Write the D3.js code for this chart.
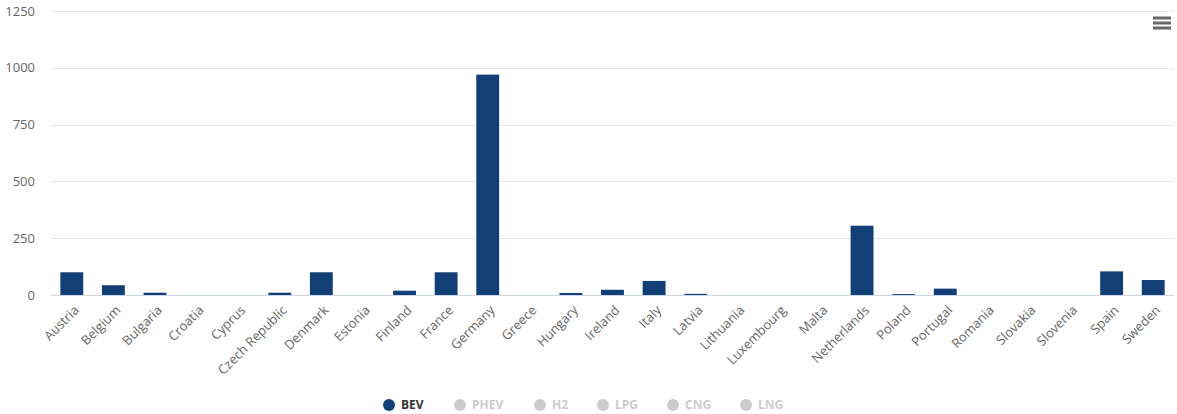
<!DOCTYPE html>
<html>
<head>
<meta charset="utf-8">
<script src="https://cdn.jsdelivr.net/npm/d3@7"></script>
<style>
  html, body { margin: 0; padding: 0; background: #fff; }
  svg { display: block; font-family: "Open Sans", "DejaVu Sans", sans-serif; }
</style>
</head>
<body>
<svg id="chart" width="1177" height="414"></svg>
<script>
// Registrations by country, BEV series
const countries = ["Austria", "Belgium", "Bulgaria", "Croatia", "Cyprus", "Czech Republic", "Denmark",
  "Estonia", "Finland", "France", "Germany", "Greece", "Hungary", "Ireland", "Italy", "Latvia",
  "Lithuania", "Luxembourg", "Malta", "Netherlands", "Poland", "Portugal", "Romania", "Slovakia",
  "Slovenia", "Spain", "Sweden"];
const bevValues = [100, 43, 10, 0, 0, 10, 100, 0, 19, 100, 970, 0, 9, 23, 62, 5, 0, 0, 0, 305, 4, 28,
  0, 0, 0, 104, 66];
const yTicks = [0, 250, 500, 750, 1000, 1250];
const legendItems = ["BEV", "PHEV", "H2", "LPG", "CNG", "LNG"];
const activeSeries = ["BEV"];

const svg = d3.select("#chart");
const margin = { left: 51, right: 3, top: 11, bottom: 119 };
const W = 1177, H = 414;
const plotW = W - margin.left - margin.right;
const plotH = H - margin.top - margin.bottom;
const labelFont = "'Open Sans', 'DejaVu Sans', sans-serif";

const x = d3.scaleBand().domain(countries).range([0, plotW]).paddingInner(0.45).paddingOuter(0.225);
const y = d3.scaleLinear().domain([0, 1250]).range([plotH, 0]);

const g = svg.append("g").attr("transform", `translate(${margin.left},${margin.top})`);

// horizontal grid
g.append("g").selectAll("line").data(yTicks.filter(t => t > 0)).join("line")
  .attr("x1", 0).attr("x2", plotW)
  .attr("y1", d => Math.round(y(d)) + 0.5).attr("y2", d => Math.round(y(d)) + 0.5)
  .attr("stroke", "#e6e6e6").attr("stroke-width", 1);

// y axis labels
const yAxis = g.append("g")
  .call(d3.axisLeft(y).tickValues(yTicks).tickFormat(d3.format("d")).tickSize(0).tickPadding(16));
yAxis.select(".domain").remove();
yAxis.selectAll("text").attr("fill", "#666").style("font-size", "13px").style("font-family", labelFont);

// bars
g.append("g").selectAll("rect").data(countries).join("rect")
  .attr("x", d => x(d))
  .attr("width", x.bandwidth())
  .attr("y", (d, i) => y(bevValues[i]))
  .attr("height", (d, i) => plotH - y(bevValues[i]))
  .attr("fill", "#123f76");

// x axis
const xAxis = g.append("g").attr("transform", `translate(0,${plotH})`)
  .call(d3.axisBottom(x).tickSize(0).tickPadding(0));
xAxis.select(".domain").attr("stroke", "#ccd6eb").attr("d", `M0,0.5H${plotW}`);
xAxis.selectAll("text")
  .attr("fill", "#666").style("font-size", "13px").style("font-family", labelFont)
  .attr("text-anchor", "end")
  .attr("dy", "0")
  .attr("transform", "translate(8,16) rotate(-45)");

// legend
const legend = svg.append("g").attr("transform", "translate(0,405)");
const legendX = [389, 460, 540, 603, 673, 746];
const li = legend.selectAll("g").data(legendItems).join("g")
  .attr("transform", (d, i) => `translate(${legendX[i]},0)`);
li.append("circle").attr("r", 6)
  .attr("fill", d => activeSeries.includes(d) ? "#123f76" : "#cccccc");
li.append("text").attr("x", 12).attr("dy", "0.35em")
  .style("font-size", "12px").style("font-weight", "bold")
  .attr("fill", d => activeSeries.includes(d) ? "#333333" : "#cccccc")
  .text(d => d);

// context menu icon
const menu = svg.append("g").attr("transform", "translate(1153,0)");
menu.selectAll("line").data([18, 23, 28]).join("line")
  .attr("x1", 0).attr("x2", 18).attr("y1", d => d).attr("y2", d => d)
  .attr("stroke", "#666").attr("stroke-width", 3);
</script>
</body>
</html>
